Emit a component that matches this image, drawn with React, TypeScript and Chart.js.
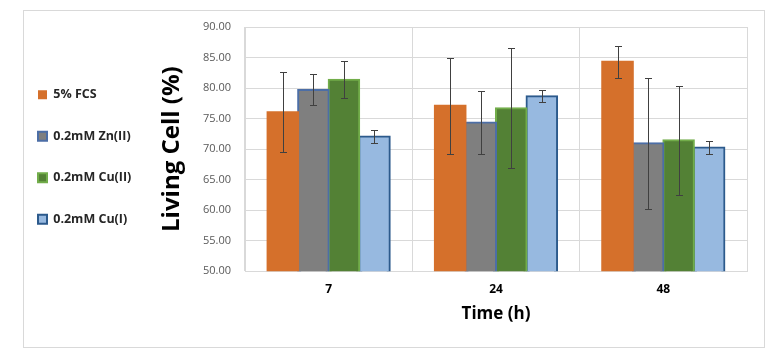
import React, { useEffect, useRef } from "react";
import { Chart, registerables } from "chart.js";

Chart.register(...registerables);

const categories = ["7", "24", "48"];
const seriesNames = ["5% FCS", "0.2mM Zn(II)", "0.2mM Cu(II)", "0.2mM Cu(I)"];
const fcsValues = [76.05, 77.1, 84.3];
const znValues = [79.7, 74.35, 70.95];
const cuIIValues = [81.35, 76.7, 71.45];
const cuIValues = [72.05, 78.65, 70.25];
const fcsErrors = [6.55, 7.85, 2.6];
const znErrors = [2.55, 5.2, 10.75];
const cuIIErrors = [3.05, 9.8, 8.95];
const cuIErrors = [1.0, 1.0, 1.0];
const yMin = 50;
const yMax = 90;
const yStep = 5;

const FONT = "'Open Sans', 'Noto Sans', sans-serif";

const errorBarPlugin = {
  id: "errorBars",
  afterDatasetsDraw(chart: any) {
    const ctx = chart.ctx;
    const yScale = chart.scales.y;
    ctx.save();
    ctx.strokeStyle = "#404040";
    ctx.lineWidth = 1;
    chart.data.datasets.forEach((ds: any, di: number) => {
      const meta = chart.getDatasetMeta(di);
      if (meta.hidden) return;
      meta.data.forEach((bar: any, i: number) => {
        const v = ds.data[i];
        const e = ds.errors[i];
        const x = Math.round(bar.x) + 0.5;
        const yTop = Math.round(yScale.getPixelForValue(v + e)) + 0.5;
        const yBot = Math.round(yScale.getPixelForValue(v - e)) + 0.5;
        const cap = 3.5;
        ctx.beginPath();
        ctx.moveTo(x, yTop);
        ctx.lineTo(x, yBot);
        ctx.moveTo(x - cap, yTop);
        ctx.lineTo(x + cap, yTop);
        ctx.moveTo(x - cap, yBot);
        ctx.lineTo(x + cap, yBot);
        ctx.stroke();
      });
    });
    ctx.restore();
  },
};

export default function App() {
  const ref = useRef<HTMLCanvasElement | null>(null);

  useEffect(() => {
    if (!ref.current) return;
    const chart = new Chart(ref.current, {
      type: "bar",
      data: {
        labels: categories,
        datasets: [
          {
            label: seriesNames[0],
            data: fcsValues,
            errors: fcsErrors,
            backgroundColor: "#D5702B",
            borderColor: "#D5702B",
            borderWidth: 0,
          } as any,
          {
            label: seriesNames[1],
            data: znValues,
            errors: znErrors,
            backgroundColor: "#7F7F7F",
            borderColor: "#4C6EA6",
            borderWidth: 2,
          } as any,
          {
            label: seriesNames[2],
            data: cuIIValues,
            errors: cuIIErrors,
            backgroundColor: "#538135",
            borderColor: "#72AD4A",
            borderWidth: 2,
          } as any,
          {
            label: seriesNames[3],
            data: cuIValues,
            errors: cuIErrors,
            backgroundColor: "#97B9E0",
            borderColor: "#2C5A8C",
            borderWidth: 2,
          } as any,
        ],
      },
      options: {
        animation: false,
        responsive: false,
        maintainAspectRatio: false,
        layout: { padding: { top: 17, right: 17, bottom: 23, left: 0 } },
        datasets: {
          bar: { categoryPercentage: 0.73, barPercentage: 1.0, inflateAmount: 1 },
        } as any,
        plugins: {
          tooltip: { enabled: false },
          legend: {
            position: "left",
            align: "start",
            title: {
              display: true,
              text: "",
              padding: 9,
              font: { family: FONT, size: 12 },
            },
            labels: {
              boxWidth: 9,
              boxHeight: 9,
              padding: 29,
              color: "#262626",
              font: { family: FONT, size: 12.5, weight: "bold" },
            },
          },
        },
        scales: {
          x: {
            grid: { color: "#D9D9D9", offset: true, drawTicks: false },
            border: { color: "#D9D9D9" },
            ticks: {
              color: "#000000",
              padding: 11,
              font: { family: FONT, size: 12, weight: "bold" },
            },
            title: {
              display: true,
              text: "Time (h)",
              color: "#000000",
              padding: { top: -4, bottom: 0 },
              font: { family: FONT, size: 17, weight: "bold" },
            },
          },
          y: {
            min: yMin,
            max: yMax,
            grid: { color: "#D9D9D9", drawTicks: false },
            border: { color: "#D9D9D9" },
            ticks: {
              stepSize: yStep,
              color: "#595959",
              padding: 14,
              font: { family: FONT, size: 11 },
              callback: (v: any) => Number(v).toFixed(2),
            },
            title: {
              display: true,
              text: "Living Cell (%)",
              color: "#000000",
              padding: { top: 16, bottom: 0 },
              font: { family: FONT, size: 24, weight: "bold" },
            },
            afterFit: (scale: any) => {
              const lw = scale.chart.legend ? scale.chart.legend.width : 0;
              scale.width = 236 - lw;
              scale.paddingTop = 0;
              scale.paddingBottom = 0;
            },
          },
        },
      },
      plugins: [errorBarPlugin],
    } as any);
    return () => chart.destroy();
  }, []);

  return (
    <div style={{ position: "absolute", left: 0, top: 0, width: 775, height: 356 }}>
      <div
        style={{
          position: "absolute",
          left: 23,
          top: 10,
          width: 742,
          height: 338,
          boxSizing: "border-box",
          border: "1px solid #D9D9D9",
        }}
      />
      <canvas
        ref={ref}
        width={755}
        height={337}
        style={{ position: "absolute", left: 9, top: 10, width: 755, height: 337 }}
      />
    </div>
  );
}
